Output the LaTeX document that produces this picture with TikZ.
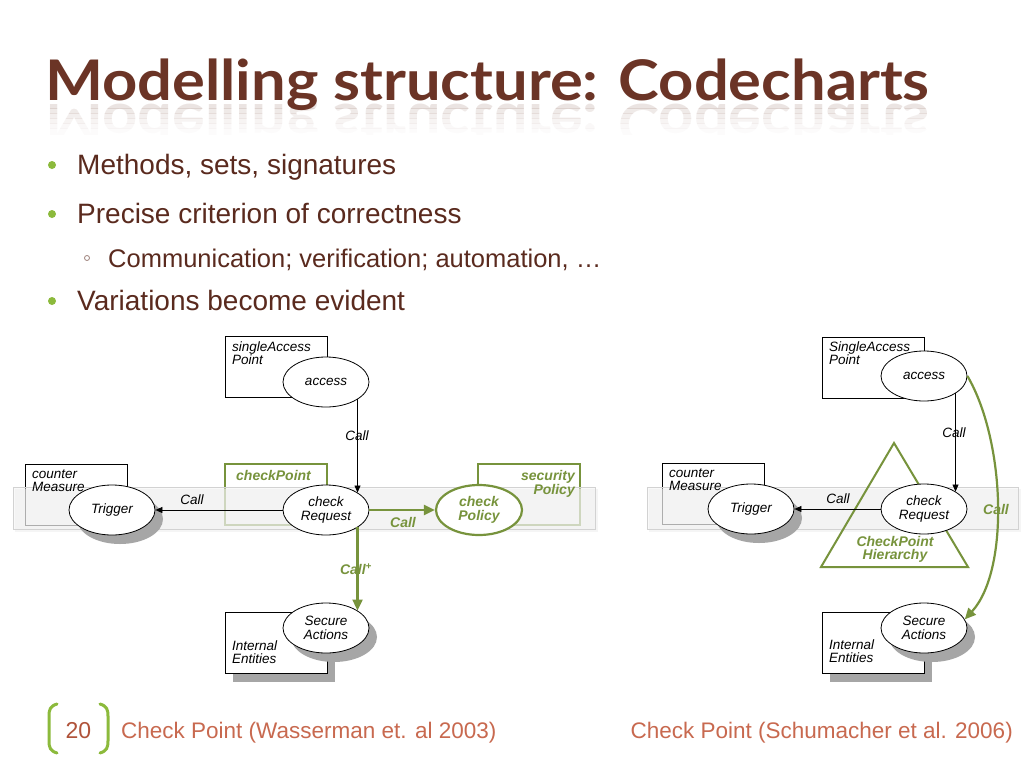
\documentclass[tikz,border=0pt]{standalone}
\usepackage{fontspec}
\setmainfont{Liberation Sans}
\newfontfamily\titlefont{Lato}
\usetikzlibrary{arrows.meta,shapes.geometric}
\definecolor{tbrown}{HTML}{6B3426}
\definecolor{txtbrown}{HTML}{5A2A1E}
\definecolor{cgreen}{HTML}{77933C}
\definecolor{bgreen}{HTML}{8CBA3C}
\definecolor{fred}{HTML}{C8694F}
\definecolor{numred}{HTML}{B0533A}
\newcommand{\mytitle}{Modelling structure: Codecharts}
\newcommand{\reflstrip}[3]{%
  \begin{scope}
    \clip (0,#1) rectangle (1024,#2);
    \node[font=\titlefont\bfseries\fontsize{56}{60}\selectfont, text=tbrown, opacity=#3, inner sep=0pt, anchor=base west] at (45,104) {\scalebox{1.097}[-1]{\mytitle}};
  \end{scope}}
\begin{document}
\begin{tikzpicture}[x=1pt,y=-1pt,
  dtext/.style={font=\fontsize{13.5}{13}\selectfont\itshape, inner sep=0pt, align=left},
  gtext/.style={font=\fontsize{14}{13}\selectfont\bfseries\itshape, text=cgreen, inner sep=0pt},
  cbox/.style={draw, fill=white, line width=0.8pt, minimum width=102pt, minimum height=61pt, inner sep=0pt},
  gbox/.style={draw=cgreen, fill=white, line width=1.8pt, minimum width=102pt, minimum height=61pt, inner sep=0pt},
  meth/.style={ellipse, draw, fill=white, line width=0.8pt, minimum width=86pt, minimum height=50pt, inner sep=0pt, align=center, font=\fontsize{13.5}{14}\selectfont\itshape},
  gmeth/.style={meth, draw=cgreen, line width=2.2pt, text=cgreen, font=\fontsize{14}{14}\selectfont\bfseries\itshape},
  shad/.style={fill=gray!70, draw=none},
  bandbox/.style={draw=gray!35, fill=gray!10, fill opacity=0.45, line width=0.8pt},
  call/.style={-{Triangle[length=7pt,width=6pt]}, line width=0.7pt},
  gcall/.style={-{Triangle[length=11pt,width=10pt]}, draw=cgreen, line width=2.2pt},
  btext/.style={font=\fontsize{28}{30}\selectfont, text=txtbrown, inner sep=0pt, anchor=base west},
  ftext/.style={font=\fontsize{22.5}{24}\selectfont, text=fred, inner sep=0pt}
]
\useasboundingbox (0,0) rectangle (1024,768);
\fill[white] (0,0) rectangle (1024,768);

% ---------- title with reflection ----------
\reflstrip{103}{108}{0.13}
\reflstrip{108}{113}{0.10}
\reflstrip{113}{118}{0.075}
\reflstrip{118}{123}{0.05}
\reflstrip{123}{128}{0.03}
\reflstrip{128}{134}{0.015}
\node[font=\titlefont\bfseries\fontsize{56}{60}\selectfont, text=tbrown, inner sep=0pt, anchor=base west] (title) at (45,100) {\scalebox{1.097}[1]{\mytitle}};

% ---------- bullets ----------
\fill[bgreen] (52,165) circle (4);
\node[btext] (b1) at (77,174) {Methods, sets, signatures};
\fill[bgreen] (52,214) circle (4);
\node[btext] (b2) at (77,223) {Precise criterion of correctness};
\draw[txtbrown!60, line width=0.8pt] (87,258) circle (2.5);
\node[btext, font=\fontsize{25.5}{27}\selectfont] (b3) at (108,267) {Communication; verification; automation, …};
\fill[bgreen] (52,301) circle (4);
\node[btext] (b4) at (77,310) {Variations become evident};

% ---------- left diagram ----------
\fill[gray!70] (233,622) rectangle (335,682);
\node[cbox] (sapL) at (276,366.5) {};
\node[cbox] (cmL) at (76,494.5) {};
\node[gbox] (cpL) at (276,494.5) {};
\node[gbox] (spL) at (529,494.5) {};
\node[cbox] (ieL) at (276,643) {};
\fill[gray!15, opacity=0.5] (15,489) rectangle (598,532);
\path[bandbox] (13,487) rectangle (595,529);
\node[dtext, anchor=north west] (sapLt) at (232,342) {singleAccess\\Point};
\node[dtext, anchor=north west] (cmLt) at (32,470) {counter\\Measure};
\node[gtext, anchor=north west] (cpLt) at (236,470) {checkPoint};
\node[gtext, anchor=north east, align=right] (spLt) at (575,470) {security\\Policy};
\node[dtext, anchor=north west] (ieLt) at (232,641) {Internal\\Entities};

\fill[shad] (120,519) ellipse [x radius=43, y radius=25];
\fill[shad] (334,637) ellipse [x radius=43, y radius=25];
\node[meth] (accL) at (326,382) {access};
\node[meth] (trigL) at (112,510) {Trigger};
\node[meth] (reqL) at (326,510) {check\\Request};
\node[gmeth] (polL) at (479,510) {check\\Policy};
\node[meth] (secL) at (326,628) {Secure\\Actions};

\draw[call] (accL.-29) -- (reqL.29);
\draw[call] (reqL.west) -- (trigL.east);
\draw[gcall] (reqL.east) -- (polL.west);
\draw[gcall] (reqL.-29) -- (secL.29);
\node[dtext] (c1) at (357,436) {Call};
\node[dtext] (c2) at (192,500) {Call};
\node[gtext] (c3) at (403,522) {Call};
\node[gtext] (c4) at (356,569) {Call\textsuperscript{+}};

% ---------- right diagram ----------
\fill[gray!70] (830,622) rectangle (932,682);
\node[cbox] (sapR) at (873,367.5) {};
\node[cbox] (cmR) at (713,493.5) {};
\node[cbox] (ieR) at (873,643) {};
\fill[gray!15, opacity=0.5] (649,489) rectangle (1021,532);
\path[bandbox] (647,487) rectangle (1018,529);
\node[dtext, anchor=north west] (sapRt) at (829,342) {SingleAccess\\Point};
\node[dtext, anchor=north west] (cmRt) at (669,469) {counter\\Measure};
\node[dtext, anchor=north west] (ieRt) at (829,640) {Internal\\Entities};
\coordinate (triA) at (894,443);
\coordinate (triB) at (821,567);
\coordinate (triC) at (968,567);
\draw[cgreen, line width=2pt, line join=miter] (triA) -- (triB) -- (triC) -- cycle;
\node[gtext, align=center] (cph) at (895,549) {CheckPoint\\Hierarchy};

\fill[shad] (759,518) ellipse [x radius=43, y radius=25];
\fill[shad] (932,637) ellipse [x radius=43, y radius=25];
\node[meth] (accR) at (924,376) {access};
\node[meth] (trigR) at (751,509) {Trigger};
\node[meth] (reqR) at (924,509) {check\\Request};
\node[meth] (secR) at (924,628) {Secure\\Actions};

\draw[call] (accR.-29) -- (reqR.29);
\draw[call] (reqR.west) -- (trigR.east);
\draw[gcall] (accR.east) .. controls (1005,440) and (1010,570) .. (secR.12);
\node[dtext] (c5) at (954,433) {Call};
\node[dtext] (c6) at (838,499) {Call};
\node[gtext] (c7) at (996,509) {Call};

% ---------- footer ----------
\draw[bgreen, line width=3pt, line cap=round] (57,704) .. controls (50,706) and (49,710) .. (49,716) -- (49,741) .. controls (49,747) and (50,751) .. (57,753);
\draw[bgreen, line width=3pt, line cap=round] (100,704) .. controls (107,706) and (108,710) .. (108,716) -- (108,741) .. controls (108,747) and (107,751) .. (100,753);
\node[font=\fontsize{23}{24}\selectfont, text=numred, inner sep=0pt, anchor=base] (num) at (78.5,738) {20};
\node[ftext, anchor=base west] (f1) at (121,738) {Check Point (Wasserman et. al 2003)};
\node[ftext, anchor=base east] (f2) at (1013,738) {Check Point (Schumacher et al. 2006)};
\end{tikzpicture}
\end{document}
